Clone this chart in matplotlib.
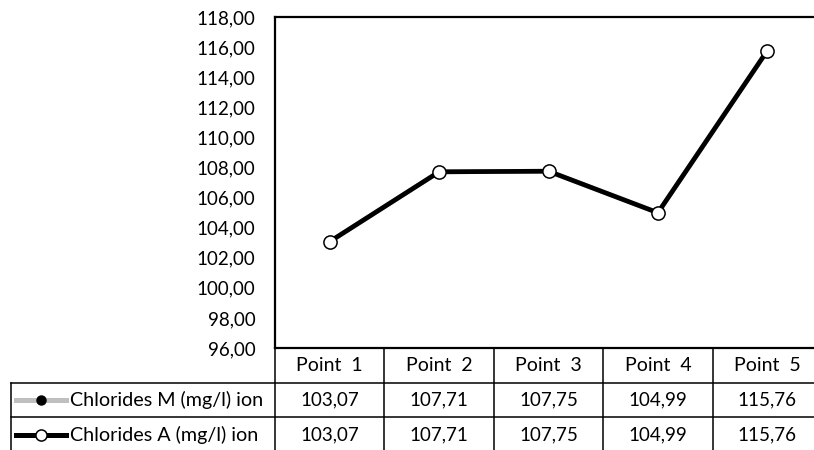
import matplotlib.pyplot as plt

categories = ['Point  1', 'Point  2', 'Point  3', 'Point  4', 'Point  5']
chlorides_m = [103.07, 107.71, 107.75, 104.99, 115.76]
chlorides_a = [103.07, 107.71, 107.75, 104.99, 115.76]
series_names = ['Chlorides M (mg/l) ion', 'Chlorides A (mg/l) ion']
y_ticks = list(range(96, 119, 2))


def fmt(v):
    return f'{v:.2f}'.replace('.', ',')


plt.rcParams['font.family'] = ['Lato', 'DejaVu Sans']

W, H = 814, 450
fig = plt.figure(figsize=(W / 100, H / 100), dpi=100)

# plot area in pixels (right edge runs past the image, like the reference)
x0, x1, ytop, ybot = 275, 822, 17, 348
ax = fig.add_axes([x0 / W, (H - ybot) / H, (x1 - x0) / W, (ybot - ytop) / H])
xs = list(range(len(categories)))
ax.plot(xs, chlorides_m, color='#bfbfbf', lw=3.4, marker='o', ms=6,
        mfc='black', mec='black', zorder=2)
ax.plot(xs, chlorides_a, color='black', lw=3.4, marker='o', ms=9.5,
        mfc='white', mec='black', mew=1.1, zorder=3, clip_on=False)
ax.set_xlim(-0.5, len(categories) - 0.5)
ax.set_ylim(96, 118)
ax.set_yticks(y_ticks)
ax.set_yticklabels([fmt(v) for v in y_ticks])
ax.tick_params(axis='y', length=0, pad=14, labelsize=13.5, colors='black')
ax.set_xticks([])
ax.spines['right'].set_visible(False)
for s in ['left', 'top', 'bottom']:
    ax.spines[s].set_linewidth(1.6)
    ax.spines[s].set_color('black')

# data table under the plot
tab = fig.add_axes([x0 / W, (H - 452) / H, (x1 - x0) / W, 104 / H])
tab.set_xlim(-0.5, len(categories) - 0.5)
tab.set_ylim(3, 0)
tab.axis('off')
ppu = (x1 - x0) / len(categories)


def px(p):
    return -0.5 + (p - x0) / ppu


lk = dict(color='black', lw=1.1, clip_on=False)
left = px(11)
for r in [1, 2]:
    tab.plot([left, len(categories) - 0.5], [r, r], **lk)
tab.plot([left, left], [1, 3], **lk)
for i in range(len(categories)):
    tab.plot([i - 0.5, i - 0.5], [0, 3], **lk)

for i, c in enumerate(categories):
    tab.text(i, 0.5, c, ha='center', va='center', fontsize=14)
    tab.text(i, 1.5, fmt(chlorides_m[i]), ha='center', va='center', fontsize=13.5)
    tab.text(i, 2.5, fmt(chlorides_a[i]), ha='center', va='center', fontsize=13.5)

# legend keys in the table
tab.plot([px(16), px(66)], [1.5, 1.5], color='#bfbfbf', lw=3.6, clip_on=False)
tab.plot([px(41)], [1.5], marker='o', ms=6.5, mfc='black', mec='black', clip_on=False)
tab.plot([px(16), px(66)], [2.5, 2.5], color='black', lw=3.6, clip_on=False)
tab.plot([px(41)], [2.5], marker='o', ms=8, mfc='white', mec='black', mew=1.1, clip_on=False)
for r, name in zip([1.5, 2.5], series_names):
    tab.text(px(70), r, name, ha='left', va='center', fontsize=14.2)

fig.savefig('out.png', dpi=100)
